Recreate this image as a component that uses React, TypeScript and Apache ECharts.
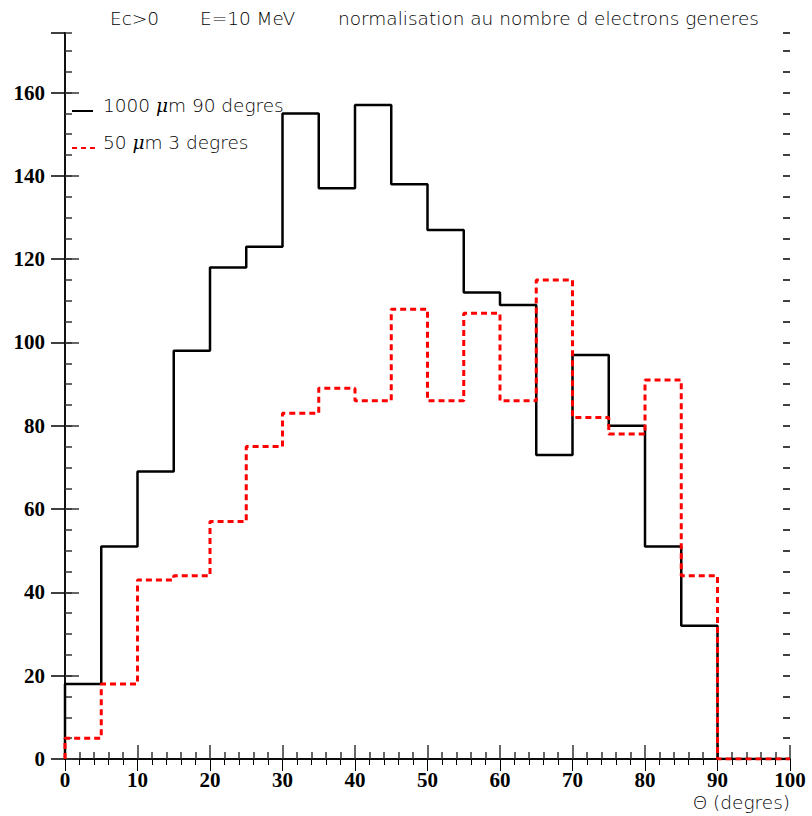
import React, { useEffect, useRef } from "react";
import * as echarts from "echarts";

const binStarts = [0, 5, 10, 15, 20, 25, 30, 35, 40, 45, 50, 55, 60, 65, 70, 75, 80, 85, 90, 95];
const binWidth = 5;
const thick1000 = [18, 51, 69, 98, 118, 123, 155, 137, 157, 138, 127, 112, 109, 73, 97, 80, 51, 32, 0, 0];
const thin50 = [5, 18, 43, 44, 57, 75, 83, 89, 86, 108, 86, 107, 86, 115, 82, 78, 91, 44, 0, 0];
const xTicks = [0, 10, 20, 30, 40, 50, 60, 70, 80, 90, 100];
const yTicks = [0, 20, 40, 60, 80, 100, 120, 140, 160];
const titleParts = ["Ec>0", "E=10 MeV", "normalisation au nombre d electrons generes"];
const legendNames = ["1000 {mu|\u03bc}m 90 degres", "50 {mu|\u03bc}m 3 degres"];
const xName = "\u0398 (degres)";
const Y_MAX = 174.3;

function histPoints(vals: number[]) {
  const pts: number[][] = [[binStarts[0], 0]];
  vals.forEach((v, i) => pts.push([binStarts[i], v]));
  pts.push([binStarts[binStarts.length - 1] + binWidth, vals[vals.length - 1]]);
  return pts;
}

const thinFont = "'DejaVu Sans', 'Liberation Sans', sans-serif";
const labelFont = "'Liberation Serif', 'DejaVu Serif', serif";
const thinStyle = `200 18.5px ${thinFont}`;

export default function App() {
  const ref = useRef<HTMLDivElement>(null);
  useEffect(() => {
    if (!ref.current) return;
    const chart = echarts.init(ref.current, null, { renderer: "svg" });
    const xBase = {
      type: "value" as const,
      min: xTicks[0],
      max: xTicks[xTicks.length - 1],
      interval: 10,
      splitLine: { show: false },
    };
    const yBase = {
      type: "value" as const,
      min: 0,
      max: Y_MAX,
      splitLine: { show: false },
    };
    const muRich = { mu: { fontStyle: "italic", fontSize: 18.5, fontWeight: 200, fontFamily: "'DejaVu Serif', serif" } };
    chart.setOption({
      animation: false,
      backgroundColor: "#ffffff",
      grid: { left: 65, right: 22, top: 33, bottom: 57 },
      xAxis: [
        {
          ...xBase,
          position: "bottom",
          axisLine: { show: true, lineStyle: { color: "#333", width: 2 } },
          axisTick: { show: true, inside: true, length: 14, lineStyle: { color: "#333", width: 1.5 } },
          minorTick: { show: true, splitNumber: 5, length: 7, lineStyle: { color: "#333", width: 1.5 } },
          axisLabel: {
            show: true,
            margin: 10,
            fontFamily: labelFont,
            fontWeight: "bold",
            fontSize: 21,
            color: "#000",
            formatter: (v: number) => (xTicks.includes(v) ? String(v) : ""),
          },
        },
        {
          ...xBase,
          position: "top",
          axisLine: { show: true, lineStyle: { color: "#000", width: 1.5 } },
          axisTick: { show: true, inside: true, length: 12, lineStyle: { color: "#000", width: 1 } },
          minorTick: { show: true, splitNumber: 5, length: 6, lineStyle: { color: "#000", width: 1 } },
          axisLabel: { show: false },
        },
      ],
      yAxis: [
        {
          ...yBase,
          interval: 20,
          position: "left",
          axisLine: { show: true, lineStyle: { color: "#444", width: 2 } },
          axisTick: { show: true, inside: true, length: 14, lineStyle: { color: "#333", width: 1.5 } },
          axisLabel: {
            show: true,
            margin: 20,
            showMaxLabel: false,
            fontFamily: labelFont,
            fontWeight: "bold",
            fontSize: 21,
            color: "#000",
            formatter: (v: number) => (yTicks.includes(v) ? String(v) : ""),
          },
        },
        {
          ...yBase,
          interval: 20,
          position: "right",
          axisLine: { show: true, lineStyle: { color: "#000", width: 1.5 } },
          axisTick: { show: true, inside: true, length: 14, lineStyle: { color: "#000", width: 1.5 } },
          axisLabel: { show: false },
        },
        {
          ...yBase,
          interval: 5,
          position: "left",
          axisLine: { show: false },
          axisTick: { show: true, inside: true, length: 7, lineStyle: { color: "#333", width: 1.5 } },
          axisLabel: { show: false },
        },
        {
          ...yBase,
          interval: 5,
          position: "right",
          axisLine: { show: false },
          axisTick: { show: true, inside: true, length: 7, lineStyle: { color: "#000", width: 1.5 } },
          axisLabel: { show: false },
        },
      ],
      series: [
        {
          type: "line",
          name: "1000 \u03bcm 90 degres",
          xAxisIndex: 0,
          yAxisIndex: 0,
          step: "end",
          showSymbol: false,
          symbol: "none",
          data: histPoints(thick1000),
          lineStyle: { color: "#000", width: 2.5 },
          z: 3,
        },
        {
          type: "line",
          name: "50 \u03bcm 3 degres",
          xAxisIndex: 0,
          yAxisIndex: 0,
          step: "end",
          showSymbol: false,
          symbol: "none",
          data: histPoints(thin50),
          lineStyle: { color: "#ff0000", width: 3, type: [6, 4] },
          z: 4,
        },
      ],
      graphic: [
        { type: "text", x: 110, y: 18, style: { text: titleParts[0], font: thinStyle, fill: "#000", verticalAlign: "middle" } },
        { type: "text", x: 200, y: 18, style: { text: titleParts[1], font: thinStyle, fill: "#000", verticalAlign: "middle" } },
        { type: "text", x: 338, y: 18, style: { text: titleParts[2], font: thinStyle, fill: "#000", verticalAlign: "middle" } },
        { type: "line", shape: { x1: 72, y1: 111, x2: 93, y2: 111 }, style: { stroke: "#000", lineWidth: 2 }, z: 10 },
        {
          type: "text",
          x: 103,
          y: 105,
          style: { text: legendNames[0], font: thinStyle, fill: "#000", verticalAlign: "middle", rich: muRich },
          z: 10,
        },
        { type: "line", shape: { x1: 72, y1: 148, x2: 95, y2: 148 }, style: { stroke: "#ff0000", lineWidth: 2, lineDash: [5, 4] }, z: 10 },
        {
          type: "text",
          x: 103,
          y: 142,
          style: { text: legendNames[1], font: thinStyle, fill: "#000", verticalAlign: "middle", rich: muRich },
          z: 10,
        },
        { type: "text", x: 790, y: 802, style: { text: xName, font: thinStyle, fill: "#000", align: "right", verticalAlign: "middle" } },
      ],
    });
    return () => chart.dispose();
  }, []);
  return <div ref={ref} style={{ width: 812, height: 816, position: "absolute", left: 0, top: 0 }} />;
}
